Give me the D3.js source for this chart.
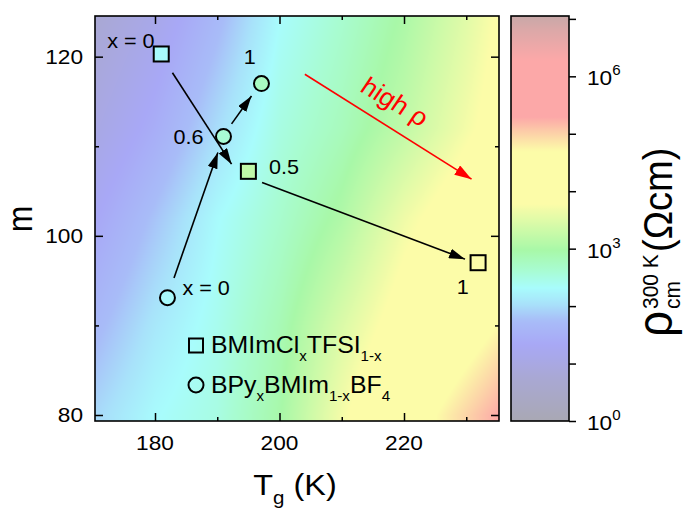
<!DOCTYPE html>
<html>
<head>
<meta charset="utf-8">
<script src="https://cdn.jsdelivr.net/npm/d3@7"></script>
<style>
  body { margin: 0; background: #fff; }
  text { font-family: "Liberation Sans", Arial, sans-serif; fill: #000; }
</style>
</head>
<body>
<svg id="chart" width="688" height="510"></svg>
<script>

////////////////////////////////// Data //////////////////////////////////

// axis limits
var tgLimits = [170.36, 235.26]
var mLimits = [79.33, 124.54]
var rhoLimits = [1, Math.pow(10, 7.05)]

var tgMajor = [180, 200, 220]
var tgMinor = [190, 210, 230]
var mMajor = [80, 100, 120]
var mMinor = [90, 110]
var rhoTicks = [1e0, 1e1, 1e2, 1e3, 1e4, 1e5, 1e6, 1e7]
var rhoLabelExp = [0, 3, 6]

// background map: log10(rho) read at grid nodes (rows = m, cols = Tg)
var tgGrid = [170, 180, 190, 200, 210, 220, 230, 240]
var mGrid = [80, 90, 102, 112, 125]
var logRhoGrid = [
  [1.95, 2.30, 2.50, 2.95, 3.70, 4.40, 4.98, 5.55],
  [1.65, 2.10, 2.42, 2.85, 3.45, 4.00, 4.45, 4.95],
  [1.30, 1.80, 2.30, 2.65, 3.05, 3.65, 4.10, 4.45],
  [1.00, 1.45, 2.00, 2.50, 2.80, 3.20, 3.70, 4.20],
  [0.70, 1.10, 1.65, 2.30, 2.63, 3.00, 3.50, 4.10]
]

// colour map (log10 rho -> colour)
var cmapLog = [0, 0.75, 1.34, 1.74, 2.04, 2.32, 2.62, 2.97, 3.37, 3.78, 4.7, 5.0, 5.29, 6.28, 6.8, 7.05]
var cmapHex = ["#a9a8b4", "#a9a8d4", "#a8a8f6", "#a8bcf8", "#a8e2fa", "#a8fcfc", "#a8fcd2", "#a8f8a8",
               "#d2faa8", "#fcfca8", "#fcfca8", "#fcd2a8", "#fca8a8", "#fca8a8", "#dca8a8", "#c8a8a8"]

// BMImCl_x TFSI_1-x (squares)
var sqLabel = ["x = 0", "0.5", "1"]
var sqTg = [181.0, 195.0, 231.9]
var sqM = [120.3, 107.2, 97.0]
var sqLogRho = [2.3, 3.2, 4.3]

// BPy_x BMIm_1-x BF4 (circles)
var ciLabel = ["x = 0", "0.6", "1"]
var ciTg = [182.0, 191.0, 197.1]
var ciM = [93.1, 111.1, 117.0]
var ciLogRho = [2.3, 2.6, 2.75]

// arrows: [Tg start, m start, Tg end, m end]
var arrows = [
  [182.8, 118.2, 192.3, 108.0],
  [197.2, 105.95, 229.8, 97.4],
  [183.05, 95.3, 190.1, 109.3],
  [192.3, 112.5, 195.5, 115.6]
]
var highRhoArrow = [204.07, 118.04, 230.85, 106.33]

////////////////////////////////// Setup //////////////////////////////////

var S = 1.08   // text in the picture is a little wide
var svg = d3.select("#chart")
var plot = { left: 95, right: 499, top: 16, bottom: 421 }
var cb = { left: 511, right: 569 }

var x = d3.scaleLinear().domain(tgLimits).range([plot.left, plot.right])
var y = d3.scaleLinear().domain(mLimits).range([plot.bottom, plot.top])
var cy = d3.scaleLog().domain(rhoLimits).range([plot.bottom, plot.top])
var color = d3.scaleLinear().domain(cmapLog).range(cmapHex).clamp(true)

function txt(parent, px, py, size, anchor, rot) {
  return parent.append("text")
    .attr("transform", "translate(" + px + "," + py + ") scale(" + S + ",1)" + (rot ? " rotate(" + rot + ")" : ""))
    .attr("font-size", size)
    .attr("text-anchor", anchor || "start")
}

////////////////////////////// Background map //////////////////////////////

var gi = d3.scaleLinear().domain(tgGrid).range(d3.range(tgGrid.length)).clamp(true)
var gj = d3.scaleLinear().domain(mGrid).range(d3.range(mGrid.length)).clamp(true)

function logRhoAt(tg, m) {
  var fi = gi(tg), fj = gj(m)
  var i0 = Math.min(Math.floor(fi), tgGrid.length - 2)
  var j0 = Math.min(Math.floor(fj), mGrid.length - 2)
  var u = fi - i0, v = fj - j0
  var r0 = logRhoGrid[j0], r1 = logRhoGrid[j0 + 1]
  return (r0[i0] * (1 - u) + r0[i0 + 1] * u) * (1 - v) + (r1[i0] * (1 - u) + r1[i0 + 1] * u) * v
}

var W = plot.right - plot.left, H = plot.bottom - plot.top
var canvas = document.createElement("canvas")
canvas.width = W; canvas.height = H
var ctx = canvas.getContext("2d")
var img = ctx.createImageData(W, H)
for (var j = 0; j < H; j++) {
  var m = y.invert(plot.top + j + 0.5)
  for (var i = 0; i < W; i++) {
    var c = d3.rgb(color(logRhoAt(x.invert(plot.left + i + 0.5), m)))
    var k = (j * W + i) * 4
    img.data[k] = c.r; img.data[k + 1] = c.g; img.data[k + 2] = c.b; img.data[k + 3] = 255
  }
}
ctx.putImageData(img, 0, 0)

svg.append("image")
  .attr("href", canvas.toDataURL())
  .attr("x", plot.left).attr("y", plot.top)
  .attr("width", W).attr("height", H)
  .attr("preserveAspectRatio", "none")

///////////////////////////////// Axes /////////////////////////////////////

function styleAxis(g) {
  g.select(".domain").remove()
  g.selectAll("line").attr("stroke", "#000").attr("stroke-width", 1.5)
}

svg.append("g").attr("transform", "translate(0," + plot.bottom + ")")
  .call(d3.axisBottom(x).tickValues(tgMajor).tickSize(-8).tickFormat(""))
  .call(styleAxis)
svg.append("g").attr("transform", "translate(0," + plot.bottom + ")")
  .call(d3.axisBottom(x).tickValues(tgMinor).tickSize(-4).tickFormat(""))
  .call(styleAxis)
svg.append("g").attr("transform", "translate(0," + plot.top + ")")
  .call(d3.axisTop(x).tickValues(tgMajor).tickSize(-8).tickFormat(""))
  .call(styleAxis)
svg.append("g").attr("transform", "translate(0," + plot.top + ")")
  .call(d3.axisTop(x).tickValues(tgMinor).tickSize(-4).tickFormat(""))
  .call(styleAxis)
svg.append("g").attr("transform", "translate(" + plot.left + ",0)")
  .call(d3.axisLeft(y).tickValues(mMajor).tickSize(-8).tickFormat(""))
  .call(styleAxis)
svg.append("g").attr("transform", "translate(" + plot.left + ",0)")
  .call(d3.axisLeft(y).tickValues(mMinor).tickSize(-4).tickFormat(""))
  .call(styleAxis)
svg.append("g").attr("transform", "translate(" + plot.right + ",0)")
  .call(d3.axisRight(y).tickValues(mMajor).tickSize(-8).tickFormat(""))
  .call(styleAxis)
svg.append("g").attr("transform", "translate(" + plot.right + ",0)")
  .call(d3.axisRight(y).tickValues(mMinor).tickSize(-4).tickFormat(""))
  .call(styleAxis)

// tick labels
tgMajor.forEach(function (v) {
  txt(svg, x(v), plot.bottom + 29, 21, "middle").text(v)
})
mMajor.forEach(function (v) {
  txt(svg, plot.left - 12, y(v) + 7.5, 21, "end").text(v)
})

// frame
svg.append("rect")
  .attr("x", plot.left).attr("y", plot.top).attr("width", W).attr("height", H)
  .attr("fill", "none").attr("stroke", "#000").attr("stroke-width", 1.6)

// axis titles
var xt = txt(svg, 295, 495, 30, "middle")
xt.append("tspan").text("T")
xt.append("tspan").attr("font-size", 19).attr("dy", 9).text("g")
xt.append("tspan").attr("dy", -9).text(" (K)")

txt(svg, 32, 219, 32, "middle", -90).text("m")

//////////////////////////////// Arrows ////////////////////////////////////

var defs = svg.append("defs")
function arrowHead(id, fill, len, wid) {
  defs.append("marker")
    .attr("id", id)
    .attr("markerUnits", "userSpaceOnUse")
    .attr("viewBox", "0 0 " + len + " " + wid)
    .attr("markerWidth", len).attr("markerHeight", wid)
    .attr("refX", len).attr("refY", wid / 2)
    .attr("orient", "auto")
  .append("path")
    .attr("d", "M0,0L" + len + "," + wid / 2 + "L0," + wid + "Z")
    .attr("fill", fill)
}
arrowHead("headBlack", "#000", 16, 10)
arrowHead("headRed", "#f00", 17, 11)

svg.append("g").selectAll("line").data(arrows).enter().append("line")
  .attr("x1", function (d) { return x(d[0]) })
  .attr("y1", function (d) { return y(d[1]) })
  .attr("x2", function (d) { return x(d[2]) })
  .attr("y2", function (d) { return y(d[3]) })
  .attr("stroke", "#000").attr("stroke-width", 1.6)
  .attr("marker-end", "url(#headBlack)")

svg.append("line")
  .attr("x1", x(highRhoArrow[0])).attr("y1", y(highRhoArrow[1]))
  .attr("x2", x(highRhoArrow[2])).attr("y2", y(highRhoArrow[3]))
  .attr("stroke", "#f00").attr("stroke-width", 1.6)
  .attr("marker-end", "url(#headRed)")

var ang = Math.atan2(y(highRhoArrow[3]) - y(highRhoArrow[1]), x(highRhoArrow[2]) - x(highRhoArrow[0])) * 180 / Math.PI
txt(svg, 390, 109, 25, "middle", ang).style("fill", "#f00").text("high \u03c1")

//////////////////////////////// Markers ///////////////////////////////////

var sqData = sqTg.map(function (t, i) { return { tg: t, m: sqM[i], lr: sqLogRho[i], label: sqLabel[i] } })
var ciData = ciTg.map(function (t, i) { return { tg: t, m: ciM[i], lr: ciLogRho[i], label: ciLabel[i] } })

var side = 15
svg.append("g").selectAll("rect").data(sqData).enter().append("rect")
  .attr("x", function (d) { return x(d.tg) - side / 2 })
  .attr("y", function (d) { return y(d.m) - side / 2 })
  .attr("width", side).attr("height", side)
  .attr("fill", function (d) { return color(d.lr) })
  .attr("stroke", "#000").attr("stroke-width", 2)

svg.append("g").selectAll("circle").data(ciData).enter().append("circle")
  .attr("cx", function (d) { return x(d.tg) })
  .attr("cy", function (d) { return y(d.m) })
  .attr("r", 7.5)
  .attr("fill", function (d) { return color(d.lr) })
  .attr("stroke", "#000").attr("stroke-width", 2)

// composition labels: offsets from the marker centre
var sqLabelPos = [[-6.7, -6, "end"], [20.6, 3, "start"], [-15.3, 31.6, "middle"]]
var ciLabelPos = [[15, -2.4, "start"], [-20, 7.6, "end"], [-11.7, -19.4, "middle"]]
sqData.forEach(function (d, i) {
  var p = sqLabelPos[i]
  txt(svg, x(d.tg) + p[0], y(d.m) + p[1], 20, p[2]).text(d.label)
})
ciData.forEach(function (d, i) {
  var p = ciLabelPos[i]
  txt(svg, x(d.tg) + p[0], y(d.m) + p[1], 20, p[2]).text(d.label)
})

//////////////////////////////// Legend ////////////////////////////////////

svg.append("rect").attr("x", 189).attr("y", 338.5).attr("width", 14).attr("height", 14)
  .attr("fill", "none").attr("stroke", "#000").attr("stroke-width", 2)
svg.append("circle").attr("cx", 196).attr("cy", 385).attr("r", 7.5)
  .attr("fill", "none").attr("stroke", "#000").attr("stroke-width", 2)

function richText(t, parts) {
  parts.forEach(function (p) {
    var s = t.append("tspan").text(p[0])
    if (p[1] === "sub") s.attr("font-size", 14).attr("dy", 8)
    else if (p[1] === "back") s.attr("dy", -8)
  })
}
richText(txt(svg, 211, 353.3, 23), [["BMImCl"], ["x", "sub"], ["TFSI", "back"], ["1-x", "sub"]])
richText(txt(svg, 211, 393.3, 23), [["BPy"], ["x", "sub"], ["BMIm", "back"], ["1-x", "sub"], ["BF", "back"], ["4", "sub"]])

/////////////////////////////// Colour bar /////////////////////////////////

var grad = defs.append("linearGradient").attr("id", "cbGrad")
  .attr("x1", 0).attr("y1", 1).attr("x2", 0).attr("y2", 0)
var lo = Math.log10(rhoLimits[0]), hi = Math.log10(rhoLimits[1])
d3.range(0, 141).forEach(function (k) {
  var t = k / 140
  grad.append("stop").attr("offset", t).attr("stop-color", color(lo + t * (hi - lo)))
})

svg.append("rect")
  .attr("x", cb.left).attr("y", plot.top)
  .attr("width", cb.right - cb.left).attr("height", H)
  .attr("fill", "url(#cbGrad)")
  .attr("stroke", "#000").attr("stroke-width", 1.6)

svg.append("g").attr("transform", "translate(" + cb.right + ",0)")
  .call(d3.axisRight(cy).tickValues(rhoTicks.filter(function (v) { return v <= rhoLimits[1] })).tickSize(7).tickFormat(""))
  .call(styleAxis)

rhoLabelExp.forEach(function (e) {
  var t = txt(svg, 587, cy(Math.pow(10, e)) + 9, 21)
  t.append("tspan").text("10")
  t.append("tspan").attr("font-size", 14).attr("dy", -10).text(e)
})

// colour bar title, rotated
var ct = svg.append("g").attr("transform", "translate(672,337) scale(" + S + ",1) rotate(-90)")
ct.append("text").attr("font-size", 46).text("\u03c1")
ct.append("text").attr("x", 28).attr("y", 7.5).attr("font-size", 21).text("cm")
ct.append("text").attr("x", 28).attr("y", -13).attr("font-size", 21).text("300 K")
ct.append("text").attr("x", 85).attr("font-size", 38).text("(\u03a9cm)")

</script>
</body>
</html>
